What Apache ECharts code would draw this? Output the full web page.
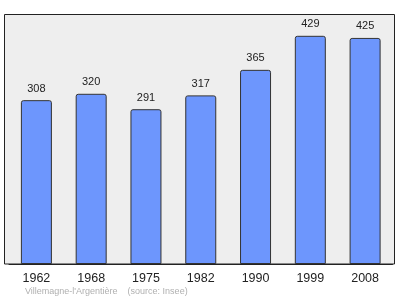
<!DOCTYPE html>
<html><head><meta charset="utf-8">
<script src="https://cdn.jsdelivr.net/npm/echarts@6/dist/echarts.min.js"></script>
<style>html,body{margin:0;padding:0;background:#fff}#c{width:400px;height:299px}</style>
</head><body><div id="c"></div>
<script>
var years = ['1962','1968','1975','1982','1990','1999','2008'];
var population = [308,320,291,317,365,429,425];
var footer = "Villemagne-l'Argentière    (source: Insee)";

var chart = echarts.init(document.getElementById('c'), null, {renderer:'canvas'});
chart.setOption({
  animation:false,
  backgroundColor:'#ffffff',
  graphic:[
    {type:'rect', z:-10, shape:{x:4.5,y:14.5,width:390,height:249.5},
     style:{fill:'#eeeeee', stroke:'#222', lineWidth:1}},
    {type:'text', left:25, top:287, style:{text:footer, fill:'#b0b0b0', font:'9px "Liberation Sans", Arial, sans-serif'}}
  ],
  grid:{left:9, right:7.5, top:14, bottom:35},
  xAxis:{type:'category', data:years, boundaryGap:true,
    axisLine:{show:true, lineStyle:{color:'#222', width:1}},
    axisTick:{show:false},
    axisLabel:{color:'#222', fontSize:12.5, margin:8, fontFamily:'"Liberation Sans", Arial, sans-serif'}},
  yAxis:{type:'value', min:0, max:470, show:false, splitLine:{show:false}},
  series:[{type:'bar', data:population, barWidth:31,
    itemStyle:{color:'#6d96fd', borderColor:'#333', borderWidth:1, borderRadius:[2,2,0,0]},
    label:{show:true, position:'top', distance:6, color:'#222', fontSize:11,
      fontFamily:'"Liberation Sans", Arial, sans-serif'}}]
});
</script></body></html>
